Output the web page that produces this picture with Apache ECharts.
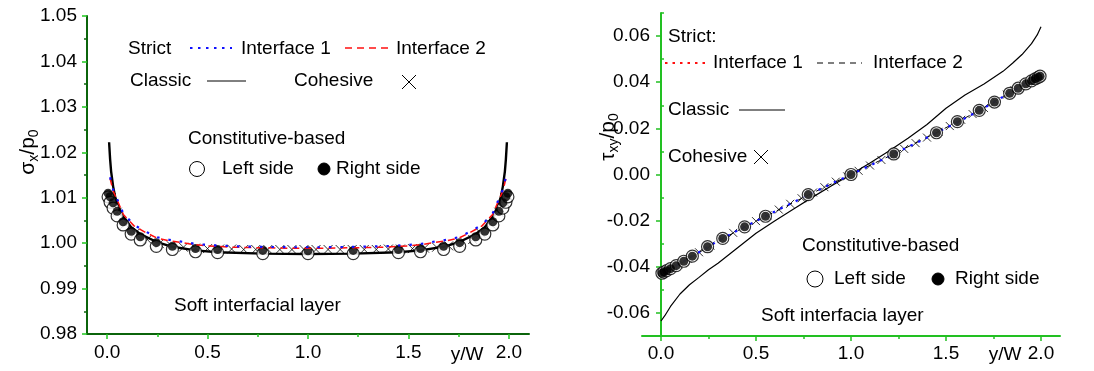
<!DOCTYPE html>
<html>
<head>
<meta charset="utf-8">
<script src="https://cdn.jsdelivr.net/npm/echarts@6/dist/echarts.min.js"></script>
<style>
html,body{margin:0;padding:0;background:#fff;}
#c{width:1094px;height:371px;}
</style>
</head>
<body>
<div id="c"></div>
<script>
// ---------- data ----------
const xTicks = [0, 0.5, 1.0, 1.5, 2.0];
const xMinor = [0.25, 0.75, 1.25, 1.75];
const yTicksR = [-0.06, -0.04, -0.02, 0, 0.02, 0.04, 0.06];
const yMinorR = [-0.07, -0.05, -0.03, -0.01, 0.01, 0.03, 0.05, 0.07];

// Constitutive-based points (shared y/W positions)
const xPts = [0.005, 0.015, 0.03, 0.05, 0.08, 0.12, 0.165, 0.245, 0.325, 0.44, 0.55, 0.775, 1.0, 1.225, 1.45, 1.56, 1.675, 1.755, 1.835, 1.88, 1.92, 1.95, 1.97, 1.985, 1.995];

// Left panel: sigma_x / p0
const sigLeftSide = [1.0102, 1.0090, 1.0077, 1.0060, 1.0040, 1.0020, 1.0007, 0.9993, 0.9986, 0.9981, 0.9979, 0.9977, 0.9977, 0.9977, 0.9979, 0.9981, 0.9986, 0.9993, 1.0007, 1.0020, 1.0040, 1.0060, 1.0077, 1.0090, 1.0102];
const sigRightSide = [1.0110, 1.0102, 1.0089, 1.0070, 1.0047, 1.0026, 1.0014, 1.0001, 0.9993, 0.9988, 0.9986, 0.9984, 0.9983, 0.9984, 0.9986, 0.9988, 0.9993, 1.0001, 1.0014, 1.0026, 1.0047, 1.0070, 1.0089, 1.0102, 1.0110];

const xIfaceL = [0.015, 0.03, 0.056, 0.081, 0.134, 0.194, 0.25, 0.313, 0.376, 0.43, 0.5, 0.63, 0.75, 0.9, 1.0, 1.1, 1.25, 1.37, 1.5, 1.57, 1.624, 1.687, 1.75, 1.806, 1.866, 1.919, 1.944, 1.97, 1.985];
const sigIface1 = [1.0145, 1.0118, 1.0091, 1.0065, 1.0040, 1.0025, 1.0013, 1.0007, 1.0003, 0.9999, 0.9996, 0.9993, 0.9992, 0.9991, 0.9991, 0.9991, 0.9992, 0.9993, 0.9996, 0.9999, 1.0003, 1.0007, 1.0013, 1.0025, 1.0040, 1.0065, 1.0091, 1.0118, 1.0145];
const sigIface2 = [1.0142, 1.0115, 1.0089, 1.0063, 1.0038, 1.0023, 1.0011, 1.0005, 1.0001, 0.9997, 0.9994, 0.9991, 0.9990, 0.9989, 0.9989, 0.9989, 0.9990, 0.9991, 0.9994, 0.9997, 1.0001, 1.0005, 1.0011, 1.0023, 1.0038, 1.0063, 1.0089, 1.0115, 1.0142];

const xClassicL = [0.01, 0.015, 0.02, 0.03, 0.04, 0.06, 0.08, 0.12, 0.165, 0.245, 0.325, 0.44, 0.55, 0.775, 1.0, 1.225, 1.45, 1.56, 1.675, 1.755, 1.835, 1.88, 1.92, 1.94, 1.96, 1.97, 1.98, 1.985, 1.99];
const sigClassic = [1.0222, 1.0185, 1.0158, 1.0125, 1.0102, 1.0075, 1.0058, 1.0035, 1.0020, 1.0003, 0.9992, 0.9984, 0.9980, 0.9977, 0.9976, 0.9977, 0.9980, 0.9984, 0.9992, 1.0003, 1.0020, 1.0035, 1.0058, 1.0075, 1.0102, 1.0125, 1.0158, 1.0185, 1.0222];

const xCoh = [0.02, 0.05, 0.09, 0.14, 0.2, 0.26, 0.32, 0.38, 0.44, 0.5, 0.56, 0.62, 0.68, 0.74, 0.8, 0.86, 0.92, 0.98, 1.04, 1.1, 1.16, 1.22, 1.28, 1.34, 1.4, 1.46, 1.52, 1.58, 1.64, 1.7, 1.76, 1.82, 1.86, 1.91, 1.95, 1.98];
const sigCoh = [1.0100, 1.0068, 1.0042, 1.0022, 1.0008, 0.9999, 0.9994, 0.9991, 0.9989, 0.9988, 0.9987, 0.9987, 0.9986, 0.9986, 0.9986, 0.9986, 0.9986, 0.9986, 0.9986, 0.9986, 0.9986, 0.9986, 0.9986, 0.9986, 0.9987, 0.9987, 0.9988, 0.9989, 0.9991, 0.9994, 0.9999, 1.0008, 1.0022, 1.0042, 1.0068, 1.0100];

// Right panel: tau_xy / p0
const tauLeftSide = [-0.0428, -0.0423, -0.0417, -0.0408, -0.0395, -0.0376, -0.0354, -0.0313, -0.0277, -0.0227, -0.0181, -0.0087, 0.0, 0.0089, 0.0181, 0.0229, 0.0278, 0.0314, 0.0352, 0.0374, 0.0393, 0.0406, 0.0415, 0.0421, 0.0426];
const tauRightSide = [-0.0428, -0.0423, -0.0417, -0.0408, -0.0395, -0.0376, -0.0354, -0.0313, -0.0277, -0.0227, -0.0181, -0.0087, 0.0, 0.0089, 0.0181, 0.0229, 0.0278, 0.0314, 0.0352, 0.0374, 0.0393, 0.0406, 0.0415, 0.0421, 0.0426];

const xIfaceR = [0, 0.1, 0.2, 0.3, 0.4, 0.5, 0.6, 0.7, 0.8, 0.9, 1.0, 1.1, 1.2, 1.3, 1.4, 1.5, 1.6, 1.7, 1.8, 1.9, 2.0];
const tauIface1 = [-0.0430, -0.0386, -0.0337, -0.0288, -0.0244, -0.0202, -0.0160, -0.0119, -0.0078, -0.0039, 0.0, 0.0039, 0.0078, 0.0119, 0.0160, 0.0202, 0.0244, 0.0288, 0.0337, 0.0386, 0.0430];
const tauIface2 = [-0.0431, -0.0387, -0.0338, -0.0289, -0.0245, -0.0203, -0.0161, -0.0120, -0.0079, -0.0040, 0.0, 0.0040, 0.0079, 0.0120, 0.0161, 0.0203, 0.0245, 0.0289, 0.0338, 0.0387, 0.0431];

const xClassicR = [0, 0.02, 0.05, 0.1, 0.15, 0.2, 0.25, 0.3, 0.4, 0.5, 0.6, 0.7, 0.8, 0.9, 1.0, 1.1, 1.2, 1.3, 1.4, 1.5, 1.6, 1.7, 1.8, 1.85, 1.9, 1.95, 1.98, 2.0];
const tauClassic = [-0.0635, -0.0612, -0.0572, -0.0518, -0.0478, -0.0446, -0.0413, -0.0385, -0.0320, -0.0255, -0.0200, -0.0148, -0.0097, -0.0048, 0.0, 0.0050, 0.0102, 0.0157, 0.0217, 0.0287, 0.0345, 0.0392, 0.0447, 0.0482, 0.0520, 0.0567, 0.0605, 0.0640];

const tauCoh = [-0.0421, -0.0408, -0.0390, -0.0366, -0.0337, -0.0308, -0.0279, -0.0253, -0.0227, -0.0202, -0.0177, -0.0152, -0.0127, -0.0103, -0.0078, -0.0055, -0.0031, -0.0008, 0.0016, 0.0039, 0.0063, 0.0087, 0.0111, 0.0136, 0.0160, 0.0185, 0.0210, 0.0237, 0.0262, 0.0288, 0.0317, 0.0346, 0.0366, 0.0390, 0.0408, 0.0421];

// ---------- chart ----------
const FONT = 'Liberation Sans, Arial, sans-serif';
const FS = 19;
const pair = (xs, ys) => xs.map((x, i) => [x, ys[i]]);
const CROSS = 'path://M0,0L10,10M10,0L0,10';
const darkG = '#0b640b', brightG = '#20c820', rightG = '#22c022';

function xMain(grid, lineColor, tickColor, margin) {
  return {
    gridIndex: grid, type: 'value', position: 'bottom', min: -0.1, max: 2.1,
    axisLine: { onZero: false, lineStyle: { color: lineColor, width: 2 } },
    axisTick: { customValues: xTicks, length: 5, lineStyle: { color: tickColor, width: 1.5 } },
    axisLabel: { customValues: xTicks, formatter: v => v.toFixed(1), color: '#000', fontSize: FS, fontFamily: FONT, margin: margin },
    splitLine: { show: false }
  };
}
function xMinorAx(grid, tickColor) {
  return {
    gridIndex: grid, type: 'value', position: 'bottom', min: -0.1, max: 2.1,
    axisLine: { show: false, onZero: false },
    axisTick: { customValues: xMinor, length: 3, lineStyle: { color: tickColor, width: 1.5 } },
    axisLabel: { show: false },
    splitLine: { show: false }
  };
}

function txt(x, y, s, extra) {
  return Object.assign({
    type: 'text', x: x, y: y, z: 100,
    style: { text: s, fill: '#000', font: FS + 'px ' + FONT, fontSize: FS, fontFamily: FONT,
             textAlign: 'left', textVerticalAlign: 'middle', align: 'left', verticalAlign: 'middle' }
  }, extra || {});
}
function seg(x1, y1, x2, y2, color, dash, w) {
  return { type: 'line', z: 100, shape: { x1: x1, y1: y1, x2: x2, y2: y2 },
           style: { stroke: color, lineWidth: w || 1, lineDash: dash || null } };
}
function cross(cx, cy, r) {
  return [seg(cx - r, cy - r, cx + r, cy + r, '#000', null, 1), seg(cx + r, cy - r, cx - r, cy + r, '#000', null, 1)];
}
function circ(cx, cy, r, filled) {
  return { type: 'circle', z: 100, shape: { cx: cx, cy: cy, r: r },
           style: { fill: filled ? '#000' : '#fff', stroke: '#000', lineWidth: 1 } };
}
function axisName(x, y, base, sub1, mid, sub2) {
  return {
    type: 'text', x: x, y: y, rotation: Math.PI / 2, z: 100,
    style: {
      text: '{b|' + base + '}{s|' + sub1 + '}{b|' + mid + '}{s|' + sub2 + '}',
      textAlign: 'center', textVerticalAlign: 'middle', align: 'center', verticalAlign: 'middle',
      rich: {
        b: { fontSize: 21, fontFamily: FONT, fill: '#000', color: '#000', lineHeight: 26, verticalAlign: 'middle' },
        s: { fontSize: 14, fontFamily: FONT, fill: '#000', color: '#000', lineHeight: 14, padding: [12, 0, 0, 0], verticalAlign: 'middle' }
      }
    }
  };
}
const centerStyle = s => ({ style: { text: s, fill: '#000', fontSize: FS, fontFamily: FONT, font: FS + 'px ' + FONT, textAlign: 'center', align: 'center', textVerticalAlign: 'middle', verticalAlign: 'middle' } });

const graphics = [
  // left legend
  txt(128, 49, 'Strict'),
  seg(190, 48, 232, 48, '#1010ff', [2.5, 5.5], 2.2),
  txt(241, 49, 'Interface 1'),
  seg(345, 48, 390, 48, '#ff1010', [7, 5], 1.5),
  txt(396, 49, 'Interface 2'),
  txt(130, 81, 'Classic'),
  seg(207, 81, 246, 81, '#000', null, 1),
  txt(294, 81, 'Cohesive'),
  ...cross(409, 82, 7),
  txt(188, 139, 'Constitutive-based'),
  circ(197, 169, 7.5, false),
  txt(222, 169, 'Left side'),
  circ(324, 169, 6, true),
  txt(336, 169, 'Right side'),
  txt(174, 306, 'Soft interfacial layer'),
  txt(467, 355, 'y/W', centerStyle('y/W')),
  axisName(28, 152, 'σ', 'x', '/p', '0'),
  // right legend
  txt(668, 37, 'Strict:'),
  seg(665, 63, 705, 63, '#ff1010', [2.5, 5], 2),
  txt(713, 63, 'Interface 1'),
  seg(817, 63, 862, 63, '#000', [6, 5], 1.2),
  txt(873, 63, 'Interface 2'),
  txt(668, 110, 'Classic'),
  seg(739, 110, 785, 110, '#000', null, 1),
  txt(668, 157, 'Cohesive'),
  ...cross(761, 157, 7),
  txt(802, 246, 'Constitutive-based'),
  circ(815, 279, 8, false),
  txt(834, 279, 'Left side'),
  circ(938, 279, 6, true),
  txt(955, 279, 'Right side'),
  txt(761, 316, 'Soft interfacia layer'),
  txt(1005, 355, 'y/W', centerStyle('y/W')),
  axisName(608, 137, 'τ', 'xy', '/p', '0')
];

const option = {
  animation: false,
  backgroundColor: '#fff',
  textStyle: { fontFamily: FONT },
  grid: [
    { left: 87, right: 565, top: 16, bottom: 37 },
    { left: 642, right: 34, top: 13, bottom: 35 }
  ],
  xAxis: [
    xMain(0, darkG, brightG, 9),
    xMinorAx(0, brightG),
    xMain(1, rightG, rightG, 8),
    xMinorAx(1, rightG)
  ],
  yAxis: [
    {
      gridIndex: 0, type: 'value', min: 0.98, max: 1.05, interval: 0.01,
      axisLine: { onZero: false, lineStyle: { color: darkG, width: 2 } },
      axisTick: { length: 5, lineStyle: { color: brightG, width: 1.5 } },
      minorTick: { show: true, splitNumber: 2, length: 3, lineStyle: { color: darkG, width: 1.5 } },
      axisLabel: { formatter: v => v.toFixed(2), color: '#000', fontSize: FS, fontFamily: FONT, margin: 10 },
      splitLine: { show: false }, minorSplitLine: { show: false }
    },
    {
      gridIndex: 1, type: 'value', min: -0.07, max: 0.07,
      axisLine: { onZero: true, lineStyle: { color: rightG, width: 2 } },
      axisTick: { customValues: yTicksR, length: 5, lineStyle: { color: rightG, width: 1.5 } },
      axisLabel: { customValues: yTicksR, formatter: v => v.toFixed(2), color: '#000', fontSize: FS, fontFamily: FONT, margin: -8 },
      splitLine: { show: false }
    },
    {
      gridIndex: 1, type: 'value', min: -0.07, max: 0.07,
      axisLine: { show: false, onZero: true },
      axisTick: { customValues: yMinorR, length: 3, lineStyle: { color: rightG, width: 1.5 } },
      axisLabel: { show: false },
      splitLine: { show: false }
    }
  ],
  graphic: graphics,
  series: [
    // ---- left panel ----
    { name: 'Classic', type: 'line', xAxisIndex: 0, yAxisIndex: 0, data: pair(xClassicL, sigClassic),
      showSymbol: false, lineStyle: { color: '#000', width: 2.4 }, z: 2 },
    { name: 'Cohesive', type: 'scatter', xAxisIndex: 0, yAxisIndex: 0, data: pair(xCoh, sigCoh),
      symbol: CROSS, symbolSize: 9, itemStyle: { color: 'rgba(0,0,0,0)', borderColor: '#000', borderWidth: 1 }, z: 3 },
    { name: 'Left side', type: 'scatter', xAxisIndex: 0, yAxisIndex: 0, data: pair(xPts, sigLeftSide),
      symbol: 'circle', symbolSize: 12, itemStyle: { color: '#fff', borderColor: '#000', borderWidth: 1.2 }, z: 4 },
    { name: 'Right side', type: 'scatter', xAxisIndex: 0, yAxisIndex: 0, data: pair(xPts, sigRightSide),
      symbol: 'circle', symbolSize: 9, itemStyle: { color: '#000' }, z: 5 },
    { name: 'Interface 2', type: 'line', xAxisIndex: 0, yAxisIndex: 0, data: pair(xIfaceL, sigIface2),
      showSymbol: false, lineStyle: { color: '#ff1010', width: 1.5, type: [7, 5] }, z: 6 },
    { name: 'Interface 1', type: 'line', xAxisIndex: 0, yAxisIndex: 0, data: pair(xIfaceL, sigIface1),
      showSymbol: false, lineStyle: { color: '#1010ff', width: 2.2, type: [2.5, 9] }, z: 7 },
    // ---- right panel ----
    { name: 'Classic R', type: 'line', xAxisIndex: 2, yAxisIndex: 1, data: pair(xClassicR, tauClassic),
      showSymbol: false, lineStyle: { color: '#000', width: 1.2 }, z: 2 },
    { name: 'Interface 2 R', type: 'line', xAxisIndex: 2, yAxisIndex: 1, data: pair(xIfaceR, tauIface2),
      showSymbol: false, lineStyle: { color: '#000', width: 1, type: [6, 5] }, z: 3 },
    { name: 'Cohesive R', type: 'scatter', xAxisIndex: 2, yAxisIndex: 1, data: pair(xCoh, tauCoh),
      symbol: CROSS, symbolSize: 8, itemStyle: { color: 'rgba(0,0,0,0)', borderColor: '#000', borderWidth: 1 }, z: 4 },
    { name: 'Interface 1 R', type: 'line', xAxisIndex: 2, yAxisIndex: 1, data: pair(xIfaceR, tauIface1),
      showSymbol: false, lineStyle: { color: '#1010ff', width: 2.2, type: [2.5, 6] }, z: 5 },
    { name: 'Left side R', type: 'scatter', xAxisIndex: 2, yAxisIndex: 1, data: pair(xPts, tauLeftSide),
      symbol: 'circle', symbolSize: 12, itemStyle: { color: '#fff', borderColor: '#000', borderWidth: 1.2 }, z: 6 },
    { name: 'Right side R', type: 'scatter', xAxisIndex: 2, yAxisIndex: 1, data: pair(xPts, tauRightSide),
      symbol: 'circle', symbolSize: 9, itemStyle: { color: '#000' }, z: 7 }
  ]
};

const chart = echarts.init(document.getElementById('c'), null, { renderer: 'canvas' });
chart.setOption(option);
</script>
</body>
</html>
